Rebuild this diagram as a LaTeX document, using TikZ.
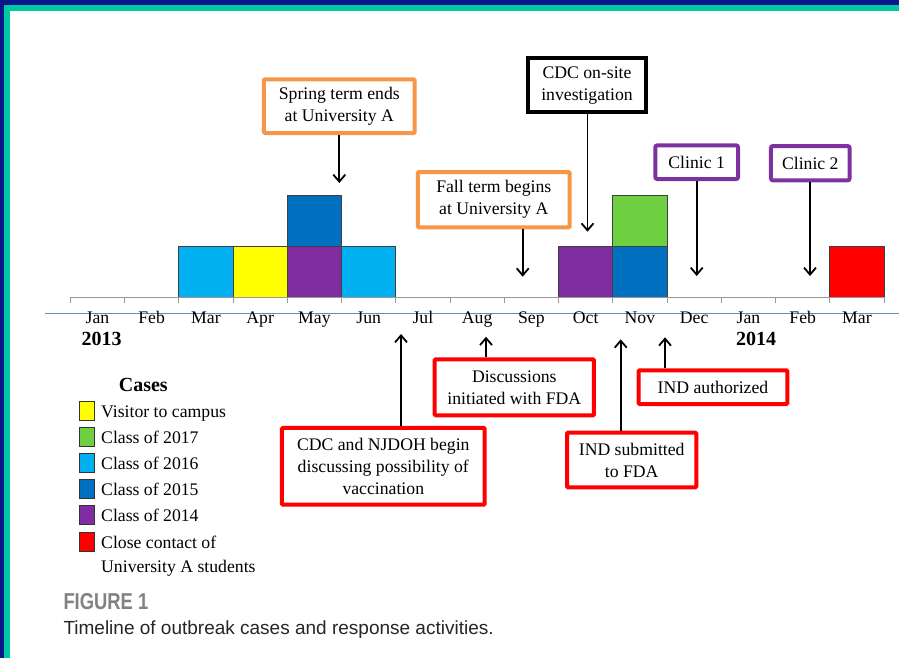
\documentclass[tikz,border=0pt]{standalone}
\usepackage{fontspec}
\setmainfont{Liberation Serif}
\newfontfamily\capfont{Liberation Sans}
\newfontfamily\capfontn[FakeStretch=0.8]{Liberation Sans}
\usetikzlibrary{arrows.meta}
\definecolor{navyband}{RGB}{8,24,140}
\definecolor{tealband}{RGB}{0,200,160}
\definecolor{lblue}{RGB}{0,176,240}
\definecolor{dblue}{RGB}{0,112,192}
\definecolor{cyell}{RGB}{255,255,0}
\definecolor{cpurp}{RGB}{127,44,160}
\definecolor{cgreen}{RGB}{110,208,64}
\definecolor{cred}{RGB}{255,0,0}
\definecolor{corange}{RGB}{247,150,70}
\definecolor{bpurp}{RGB}{125,50,160}
\definecolor{axisblue}{RGB}{100,140,180}
\definecolor{capgray}{RGB}{130,130,130}
\tikzset{
  evbox/.style={draw, line width=4pt, fill=white, align=center, inner sep=0pt,
    rounded corners=1pt, font=\fontsize{17.7}{22}\selectfont},
  arr/.style={line width=1.8pt, -{Straight Barb[length=7pt,width=12pt,line width=1.8pt]}},
  barbox/.style={draw=black!75, line width=0.8pt},
  mon/.style={font=\fontsize{17.7}{20}\selectfont, anchor=base, inner sep=0pt},
  yr/.style={font=\fontsize{20}{22}\selectfont\bfseries, anchor=base, inner sep=0pt},
  legtxt/.style={font=\fontsize{17.7}{22}\selectfont, anchor=base west, inner sep=0pt},
  legsq/.style={draw=black!80, line width=0.8pt}
}
\begin{document}
\begin{tikzpicture}[x=1pt,y=-1pt]
\useasboundingbox (0,0) rectangle (899,658);
% frame
\fill[white] (0,0) rectangle (899,658);
\fill[navyband] (0,0) rectangle (899,5);
\fill[navyband] (0,0) rectangle (4,658);
\fill[tealband] (4,5) rectangle (899,11);
\fill[tealband] (4,5) rectangle (10,658);
% axis line
\draw[axisblue, line width=1pt] (45,313.3) -- (899,313.3);
% bars
\def\bx#1{{70.3+54.25*#1}}
\foreach \i/\c in {2/lblue,3/cyell,4/cpurp,5/lblue,9/cpurp,10/dblue,14/cred}
  \filldraw[barbox, fill=\c] ({70.3+54.25*\i},297.3) rectangle ({70.3+54.25*(\i+1)},246.3);
\foreach \i/\c in {4/dblue,10/cgreen}
  \filldraw[barbox, fill=\c] ({70.3+54.25*\i},246.3) rectangle ({70.3+54.25*(\i+1)},195.3);
% baseline and ticks
\draw[black!40, line width=1pt] (70.3,297.3) -- (884,297.3);
\foreach \i in {0,...,15}
  \draw[black!40, line width=1pt] ({70.3+54.25*\i},297.3) -- ({70.3+54.25*\i},302.5);
% months
\foreach \m [count=\k from 0] in {Jan,Feb,Mar,Apr,May,Jun,Jul,Aug,Sep,Oct,Nov,Dec,Jan,Feb,Mar}
  \node[mon] (m\k) at ({70.3+54.25*(\k+0.5)},323.5) {\m};
\node[yr] (y13) at (101.7,345) {2013};
\node[yr] (y14) at (756,345) {2014};
% top boxes
\node[evbox, draw=corange, minimum width=150.7pt, minimum height=53.7pt] (spring) at (339.3,106.2) {Spring term ends\\at University A};
\node[evbox, draw=black, rounded corners=0pt, minimum width=118pt, minimum height=54.3pt] (onsite) at (587,85.2) {CDC on-site\\investigation};
\node[evbox, draw=corange, minimum width=151.7pt, minimum height=55.3pt] (fall) at (493.8,199.7) {Fall term begins\\at University A};
\node[evbox, draw=bpurp, rounded corners=2pt, minimum width=82.7pt, minimum height=33.7pt] (clin1) at (696.7,162.2) {Clinic 1};
\node[evbox, draw=bpurp, rounded corners=2pt, minimum width=78.7pt, minimum height=34.3pt] (clin2) at (810.3,163.2) {Clinic 2};
% bottom boxes
\node[evbox, draw=cred, minimum width=202.7pt, minimum height=76.7pt] (njdoh) at (383.3,466.3) {CDC and NJDOH begin\\discussing possibility of\\vaccination};
\node[evbox, draw=cred, minimum width=159.3pt, minimum height=56pt] (disc) at (514.3,387.3) {Discussions\\initiated with FDA};
\node[evbox, draw=cred, minimum width=129.3pt, minimum height=54.6pt] (indsub) at (631.7,460) {IND submitted\\to FDA};
\node[evbox, draw=cred, minimum width=148.6pt, minimum height=33.7pt] (indauth) at (713,387.2) {IND authorized};
% arrow tips
\coordinate (tSpring) at (339.3,183);
\coordinate (tOnsite) at (587.5,231.7);
\coordinate (tFall) at (522.7,276.7);
\coordinate (tC1) at (696.7,276);
\coordinate (tC2) at (810,276);
\coordinate (tNj) at (401,334);
\coordinate (tDisc) at (486,336.7);
\coordinate (tSub) at (620.7,339.3);
\coordinate (tAuth) at (665,337.3);
\draw[arr] (tSpring |- spring.south) -- (tSpring);
\draw[arr] (tOnsite |- onsite.south) -- (tOnsite);
\draw[arr] (tFall |- fall.south) -- (tFall);
\draw[arr] (tC1 |- clin1.south) -- (tC1);
\draw[arr] (tC2 |- clin2.south) -- (tC2);
\draw[arr] (tNj |- njdoh.north) -- (tNj);
\draw[arr] (tDisc |- disc.north) -- (tDisc);
\draw[arr] (tSub |- indsub.north) -- (tSub);
\draw[arr] (tAuth |- indauth.north) -- (tAuth);
% legend
\node[font=\fontsize{20}{22}\selectfont\bfseries, anchor=base, inner sep=0pt] (legtitle) at (143.3,391.7) {Cases};
\foreach \c/\t/\b [count=\k] in {cyell/Visitor to campus/417.3, cgreen/Class of 2017/443.3, lblue/Class of 2016/469.5, dblue/Class of 2015/495.5, cpurp/Class of 2014/521.5, cred/Close contact of/548.5}{
  \filldraw[legsq, fill=\c] (79.3,\b-16) rectangle (94.3,\b+3);
  \node[legtxt] (leg\k) at (101,\b) {\t};
}
\node[legtxt] (leg7) at (101,572.3) {University A students};
% caption
\node[font=\fontsize{23}{26}\selectfont\capfontn\bfseries, text=capgray, anchor=base west, inner sep=0pt] (figlab) at (63.3,609) {FIGURE 1};
\node[font=\fontsize{19}{22}\selectfont\capfont, text=black!85, anchor=base west, inner sep=0pt] (figcap) at (63.3,634) {Timeline of outbreak cases and response activities.};
\end{tikzpicture}
\end{document}
